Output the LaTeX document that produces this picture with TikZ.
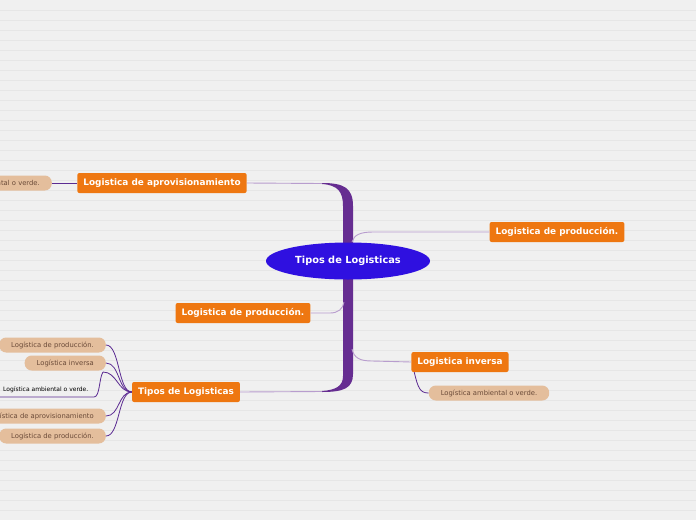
\documentclass[tikz,border=0pt]{standalone}
\usepackage{fontspec}
\setmainfont{DejaVu Sans}
\usetikzlibrary{shapes.geometric,calc}
\usepackage{xcolor}

\definecolor{fondo}{HTML}{F0F0F0}
\definecolor{raya}{HTML}{E6E6E6}
\definecolor{naranja}{HTML}{EE7711}
\definecolor{beige}{HTML}{E4BE9C}
\definecolor{textobeige}{HTML}{6A4A38}
\definecolor{azul}{HTML}{2F10E0}
\definecolor{tronco}{HTML}{662D91}
\definecolor{lila}{HTML}{B89DCE}
\definecolor{morado}{HTML}{5B2B92}

\tikzset{
  tema/.style={fill=naranja, rounded corners=2pt, text=white,
    font=\fontsize{8.9}{10}\selectfont\bfseries, minimum height=20pt, inner xsep=6pt},
  sub/.style={fill=beige, rounded corners=7pt, text=textobeige,
    font=\fontsize{6.8}{8}\selectfont, minimum height=15pt, inner xsep=12pt},
  rama/.style={lila, line width=0.9pt},
  hijo/.style={morado, line width=0.8pt},
}

\begin{document}
\begin{tikzpicture}[x=1pt,y=-1pt]
  \fill[fondo] (0,0) rectangle (696,520);
  \useasboundingbox (0,0) rectangle (696,520);
  \clip (0,0) rectangle (696,520);
  \foreach \y in {10,20,...,510}
    \draw[raya, line width=0.6pt] (0,\y) -- (696,\y);

  % tronco
  \fill[tronco] (322,183) .. controls (344,183) and (353,188) .. (353,206)
    -- (353,374) .. controls (353,388) and (344,392) .. (322,392)
    -- (322,391) .. controls (336,390) and (343,386) .. (343,376)
    -- (343,206) .. controls (343,192) and (338,185) .. (322,184) -- cycle;

  % nodos
  \node[ellipse, fill=azul, text=white, minimum width=164pt, minimum height=37pt,
    inner sep=0pt, font=\fontsize{9.8}{11}\selectfont\bfseries] (tipos) at (348,261) {Tipos de Logisticas};
  \node[tema] (aprov) at (162,183) {Logistica de aprovisionamiento};
  \node[tema] (prodR) at (557,232) {Logistica de producción.};
  \node[tema] (prodL) at (243,313) {Logistica de producción.};
  \node[tema] (inversa) at (460,362) {Logistica inversa};
  \node[tema] (tiposL) at (186,392) {Tipos de Logisticas};

  \node[sub, anchor=east] (ambA) at (52,183) {Logística ambiental o verde.};
  \node[sub] (ambI) at (489,393) {Logística ambiental o verde.};

  \node[sub, anchor=east] (c1) at (106,345) {Logística de producción.};
  \node[sub, anchor=east] (c2) at (106,363) {Logística inversa};
  \node[anchor=west, inner sep=0pt, font=\fontsize{6}{7}\selectfont] (c3) at (3,390) {Logística ambiental o verde.};
  \coordinate (c3e) at (103,372);
  \node[sub, anchor=east] (c4) at (106,416) {Logística de aprovisionamiento};
  \node[sub, anchor=east] (c5) at (106,436) {Logística de producción.};

  % ramas al tronco
  \coordinate (tA) at (322,183.5);
  \coordinate (tB) at (322,391.5);
  \draw[rama] (aprov.east) -- (tA);
  \draw[rama] (tiposL.east) -- (tB);
  \draw[rama] (prodR.west) -- (373,232) .. controls (360,232) and (354,235) .. (352,242);
  \draw[rama] (prodL.east) -- (330,313) .. controls (338,313) and (343,309) .. (344,302);
  \draw[rama] (inversa.west) -- (372,361) .. controls (360,361) and (354,358) .. (352,349);

  % hijos
  \draw[hijo] (ambA.east) -- (aprov.west);
  \draw[hijo] ($(inversa.south west)+(3,0)$) .. controls (418,388) and (420,393) .. (ambI.west);
  \foreach \c in {c1,c2,c4,c5}
    \draw[hijo] (tiposL.west) .. controls ($(tiposL.west)+(-14,0)$) and ($(\c.east)+(14,0)$) .. (\c.east);
  \draw[hijo] (tiposL.west) .. controls ($(tiposL.west)+(-14,0)$) and ($(c3e)+(14,0)$) .. (c3e);
  \draw[hijo] (c3e) .. controls (99,378) and (100,397) .. (94,397) -- (0,397);
\end{tikzpicture}
\end{document}
